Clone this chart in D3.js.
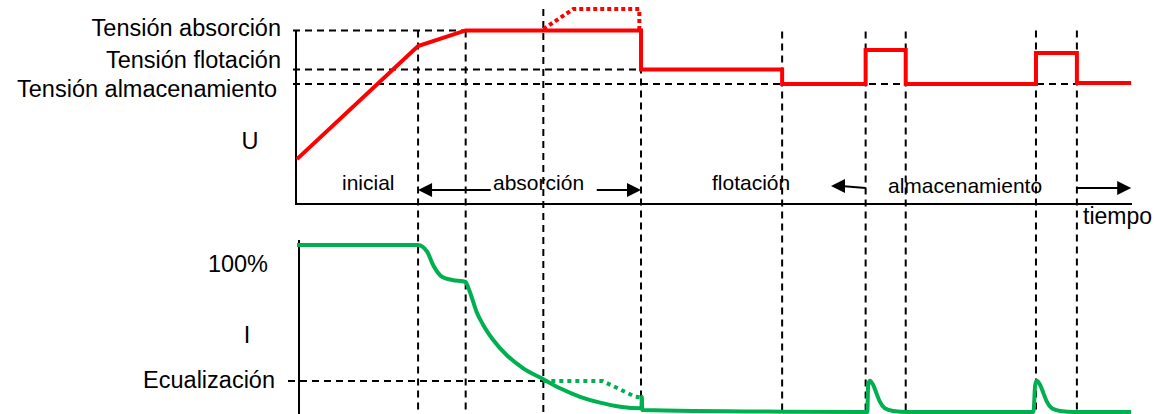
<!DOCTYPE html>
<html>
<head>
<meta charset="utf-8">
<script src="https://cdn.jsdelivr.net/npm/d3@7"></script>
<style>
  body { margin: 0; background: #fff; }
  text { font-family: "Liberation Sans", Arial, sans-serif; fill: #000; }
</style>
</head>
<body>
<script>
// tiempo (0..100) y valores relativos (0..100)
var phaseTimes = [14.5, 20.2, 29.5, 41.2, 58.1, 68.1, 72.9, 88.5, 93.4];
var phaseTops = [89, 89, 100, 89, 88.5, 88.5, 88.5, 89, 89];

var uLevels = { absorcion: 89, flotacion: 69, almacenamiento: 61.5 };
var iEqualization = 19.5;

var voltageT = [0, 14.5, 20.2, 41.2, 41.2, 58.1, 58.1, 68.1, 68.1, 72.9, 72.9, 88.5, 88.5, 93.4, 93.4, 99.9];
var voltageV = [23, 81, 89, 89, 69, 69, 61.5, 61.5, 79, 79, 61.5, 61.5, 77.5, 77.5, 62, 62];

var voltageEqT = [29.5, 33.1, 41.0, 41.0];
var voltageEqV = [89.7, 100, 100, 89];

var currentT = [0, 14.5, 15.6, 16.3, 17.4, 18.6, 20.2,
                20.3, 20.9, 21.5, 22.3, 23.5, 25.1, 27.1, 29.3, 31.5, 33.9, 36.3, 38.7, 41.25, 41.3, 41.35,
                58.1, 68.3, 68.4, 68.6, 69.0, 69.4, 69.8, 70.4, 71.4, 73.1,
                88.2, 88.4, 88.6, 89.0, 89.4, 89.8, 90.4, 91.4, 93.1, 99.9];
var currentI = [100, 100, 95.9, 88.2, 81.1, 79.3, 78.1,
                77.3, 69.4, 60.5, 52.7, 43.8, 34.9, 27.0, 21.1, 15.2, 10.2, 6.7, 4.3, 3.4, 10.2, 2.4,
                1.4, 1.2, 17, 19.7, 17.2, 12.2, 7.3, 3.4, 1.8, 1.2,
                1.2, 17, 19.7, 17.2, 12.2, 7.3, 3.4, 1.8, 1.2, 1.2];

var currentEqT = [29.5, 36.6, 40.5, 41.2];
var currentEqI = [19.5, 19.5, 10.2, 9.8];

var uLabels = ["Tensión absorción", "Tensión flotación", "Tensión almacenamiento"];
var phaseLabels = ["inicial", "absorción", "flotación", "almacenamiento"];

var W = 1157, H = 414;
var svg = d3.select("body").append("svg").attr("width", W).attr("height", H);

var x = d3.scaleLinear().domain([0, 100]).range([297, 1132]);
var yU = d3.scaleLinear().domain([0, 100]).range([204, 9]);
var yI = d3.scaleLinear().domain([0, 100]).range([414, 245]);

var red = "#ff0000", green = "#00b050";
var dash = "7,5";

// lineas de referencia discontinuas
var grid = svg.append("g").attr("stroke", "#000").attr("stroke-width", 2)
              .attr("stroke-dasharray", dash).attr("fill", "none");

grid.selectAll("line.v").data(phaseTimes).enter().append("line")
    .attr("class", "v")
    .attr("x1", d => x(d)).attr("x2", d => x(d))
    .attr("y1", (d, i) => yU(phaseTops[i])).attr("y2", H);

var hLines = [
  { v: uLevels.absorcion, t1: 41.2 },
  { v: uLevels.flotacion, t1: 41.2 },
  { v: uLevels.almacenamiento, t1: 94.7 }
];
grid.selectAll("line.h").data(hLines).enter().append("line")
    .attr("class", "h")
    .attr("x1", 293).attr("x2", d => x(d.t1))
    .attr("y1", d => yU(d.v)).attr("y2", d => yU(d.v));

grid.append("line")
    .attr("x1", 288).attr("x2", x(29.5))
    .attr("y1", yI(iEqualization)).attr("y2", yI(iEqualization));

// ejes
var axes = svg.append("g").attr("stroke", "#000").attr("stroke-width", 2);
axes.append("line").attr("x1", 296).attr("x2", 296).attr("y1", 30).attr("y2", yU(0) + 1);
axes.append("line").attr("x1", 295).attr("x2", x(100)).attr("y1", yU(0)).attr("y2", yU(0));
axes.append("line").attr("x1", 299).attr("x2", 299).attr("y1", 240).attr("y2", H);

// curvas
var line = (xs, ys, sy) => d3.line().x((d, i) => x(xs[i])).y((d, i) => sy(ys[i]))(xs);

svg.append("path").attr("d", line(voltageEqT, voltageEqV, yU))
   .attr("fill", "none").attr("stroke", red).attr("stroke-width", 4)
   .attr("stroke-dasharray", "4,3");
svg.append("path").attr("d", line(voltageT, voltageV, yU))
   .attr("fill", "none").attr("stroke", red).attr("stroke-width", 4);

svg.append("path").attr("d", line(currentEqT, currentEqI, yI))
   .attr("fill", "none").attr("stroke", green).attr("stroke-width", 4)
   .attr("stroke-dasharray", "4,4");
svg.append("path")
   .attr("d", d3.line().curve(d3.curveMonotoneX)
                .x((d, i) => x(currentT[i])).y((d, i) => yI(currentI[i]))(currentT))
   .attr("fill", "none").attr("stroke", green).attr("stroke-width", 4);

// flechas de fases
var arrows = [
  { from: 23.2, to: 14.5, y: 190, y0: 190 },
  { from: 35.9, to: 41.2, y: 190, y0: 190 },
  { from: 68.1, to: 63.95, y: 186, y0: 188 },
  { from: 93.4, to: 99.9, y: 188, y0: 188 }
];
var ag = svg.append("g");
arrows.forEach(a => {
  var tip = x(a.to), dir = a.to > a.from ? 1 : -1;
  ag.append("line").attr("x1", x(a.from)).attr("y1", a.y0)
    .attr("x2", tip - dir * 10).attr("y2", a.y)
    .attr("stroke", "#000").attr("stroke-width", 2);
  ag.append("path")
    .attr("d", `M${tip},${a.y}L${tip - dir * 14},${a.y - 7}L${tip - dir * 14},${a.y + 7}Z`)
    .attr("fill", "#000");
});

// textos
var big = 23.5, mid = 21;
var lab = svg.append("g");
lab.append("text").attr("x", 281).attr("y", 36).attr("text-anchor", "end").attr("font-size", big).text(uLabels[0]);
lab.append("text").attr("x", 281).attr("y", 68).attr("text-anchor", "end").attr("font-size", big).text(uLabels[1]);
lab.append("text").attr("x", 277).attr("y", 97).attr("text-anchor", "end").attr("font-size", big).text(uLabels[2]);
lab.append("text").attr("x", 250).attr("y", 149).attr("text-anchor", "middle").attr("font-size", big).text("U");
lab.append("text").attr("x", 268).attr("y", 272).attr("text-anchor", "end").attr("font-size", big).text("100%");
lab.append("text").attr("x", 247).attr("y", 343).attr("text-anchor", "middle").attr("font-size", big).text("I");
lab.append("text").attr("x", 275).attr("y", 388).attr("text-anchor", "end").attr("font-size", big).text("Ecualización");

var phaseX = [342, 493, 712, 888];
var phaseY = [190, 190, 190, 193];
lab.selectAll("text.phase").data(phaseLabels).enter().append("text")
   .attr("class", "phase").attr("font-size", mid)
   .attr("x", (d, i) => phaseX[i]).attr("y", (d, i) => phaseY[i]).text(d => d);

lab.append("text").attr("x", 1083).attr("y", 224).attr("font-size", 23).text("tiempo");
</script>
</body>
</html>
